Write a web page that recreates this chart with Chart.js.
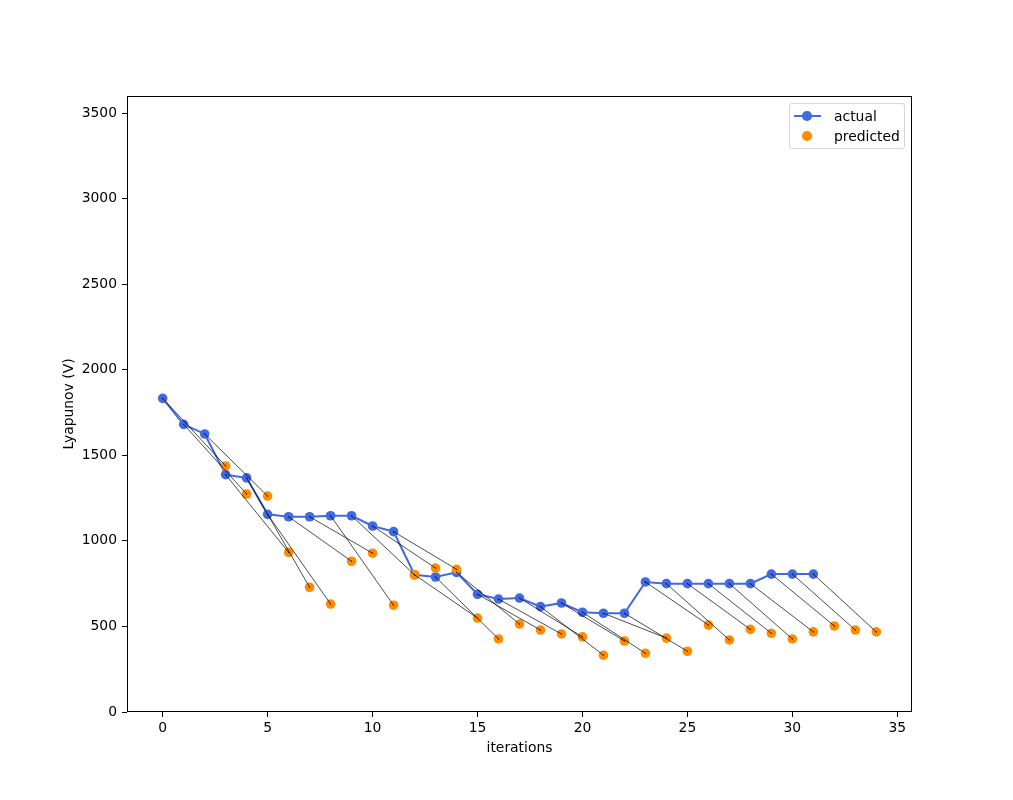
<!DOCTYPE html>
<html>
<head>
<meta charset="utf-8">
<title>Lyapunov</title>
<script src="https://cdn.jsdelivr.net/npm/chart.js@4.4.1/dist/chart.umd.min.js"></script>
<style>
    body { margin: 0; background: #fff; }
    #wrap { position: relative; width: 1013px; height: 800px; }
    #legend {
        position: absolute; left: 789px; top: 103px; width: 114px; height: 44px;
        border: 1px solid #d6d6d6; border-radius: 3px; background: rgba(255,255,255,0.8);
        font-family: 'DejaVu Sans', sans-serif; font-size: 13.9px; color: #000;
    }
    #legend .txt { position: absolute; left: 44px; line-height: 16px; }
    #legend .ln { position: absolute; left: 4px; width: 27px; height: 2px; background: #4169e1; }
    #legend .dot { position: absolute; left: 12px; width: 9.5px; height: 9.5px; border-radius: 50%; }
</style>
</head>
<body>
<div id="wrap">
    <canvas id="lyapunovChart"></canvas>
    <div id="legend">
        <div class="ln" style="top:11px"></div>
        <div class="dot" style="top:7.2px; background:#4169e1"></div>
        <span class="txt" style="top:4px">actual</span>
        <div class="dot" style="top:27.2px; background:#ff8c00"></div>
        <span class="txt" style="top:24px">predicted</span>
    </div>
</div>
<script>
// Values
const actualX = [0, 1, 2, 3, 4, 5, 6, 7, 8, 9, 10, 11, 12, 13, 14, 15,
    16, 17, 18, 19, 20, 21, 22, 23, 24, 25, 26, 27, 28, 29, 30, 31];
const actual = [1833, 1681, 1625, 1387, 1368, 1155, 1141, 1141, 1147, 1147, 1087, 1054, 802, 789, 816, 688,
    660, 666, 616, 637, 583, 577, 577, 760, 750, 750, 750, 750, 750, 806, 806, 806];

const predX = [3, 4, 5, 6, 7, 8, 9, 10, 11, 12, 13, 14, 15, 16, 17, 18,
    19, 20, 21, 22, 23, 24, 25, 26, 27, 28, 29, 30, 31, 32, 33, 34];
const predicted = [1438, 1274, 1262, 933, 729, 631, 881, 928, 624, 802, 841, 834, 549, 427, 514, 479,
    456, 439, 332, 415, 343, 432, 355, 508, 421, 483, 460, 427, 468, 503, 479, 468];

// each actual point is joined to the prediction made for it 3 steps ahead
const horizon = 3;

const xTicks = [0, 5, 10, 15, 20, 25, 30, 35];
const yTicks = [0, 500, 1000, 1500, 2000, 2500, 3000, 3500];

const FONT = { family: 'DejaVu Sans', size: 13.9 };

// Build the thin black connector lines
function buildConnectors() {
    const sets = [];
    for (let i = 0; i < actualX.length; i++) {
        const j = predX.indexOf(actualX[i] + horizon);
        if (j < 0) continue;
        sets.push({
            type: 'line',
            data: [{ x: actualX[i], y: actual[i] }, { x: predX[j], y: predicted[j] }],
            borderColor: '#000',
            borderWidth: 0.7,
            pointRadius: 0.6,
            pointBackgroundColor: '#000',
            pointBorderWidth: 0,
            order: 1
        });
    }
    return sets;
}

// Draws the four spines of the axes box
const framePlugin = {
    id: 'frame',
    afterDraw(chart) {
        const { ctx, chartArea: a } = chart;
        ctx.save();
        ctx.strokeStyle = '#000';
        ctx.lineWidth = 1;
        ctx.strokeRect(Math.round(a.left) + 0.5, Math.round(a.top) + 0.5,
            Math.round(a.right - a.left) - 1, Math.round(a.bottom - a.top) - 1);
        ctx.restore();
    }
};

const ctx = document.getElementById('lyapunovChart').getContext('2d');
const lyapunovChart = new Chart(ctx, {
    type: 'scatter',
    data: {
        datasets: [
            {
                label: 'actual',
                type: 'line',
                data: actualX.map((x, i) => ({ x: x, y: actual[i] })),
                borderColor: '#4169e1',
                backgroundColor: '#4169e1',
                borderWidth: 2,
                pointRadius: 4.8,
                pointBorderWidth: 0,
                order: 3
            },
            {
                label: 'predicted',
                data: predX.map((x, i) => ({ x: x, y: predicted[i] })),
                backgroundColor: '#ff8c00',
                borderColor: '#ff8c00',
                pointRadius: 4.8,
                pointBorderWidth: 0,
                order: 2
            },
            ...buildConnectors()
        ]
    },
    options: {
        responsive: true,
        maintainAspectRatio: false,
        animation: false,
        devicePixelRatio: 1,
        layout: { padding: { top: 96, right: 101, left: 0, bottom: 0 } },
        plugins: {
            legend: { display: false },
            tooltip: { enabled: false }
        },
        scales: {
            x: {
                type: 'linear',
                min: -1.7,
                max: 35.7,
                afterBuildTicks: scale => { scale.ticks = xTicks.map(v => ({ value: v })); },
                afterFit: scale => { scale.height = 88; },
                grid: { drawOnChartArea: false, drawTicks: true, tickLength: 5, color: '#000' },
                border: { display: false },
                ticks: { color: '#000', font: FONT, padding: 3, maxRotation: 0, callback: v => String(v) },
                title: { display: true, text: 'iterations', color: '#000', font: FONT, padding: { top: 0, bottom: 43 } }
            },
            y: {
                type: 'linear',
                min: 0,
                max: 3600,
                afterBuildTicks: scale => { scale.ticks = yTicks.map(v => ({ value: v })); },
                afterFit: scale => { scale.width = 127; },
                grid: { drawOnChartArea: false, drawTicks: true, tickLength: 5, color: '#000' },
                border: { display: false },
                ticks: { color: '#000', font: FONT, padding: 5, callback: v => String(v) },
                title: { display: true, text: 'Lyapunov (V)', color: '#000', font: FONT, padding: { top: 61, bottom: 0 } }
            }
        }
    },
    plugins: [framePlugin]
});
</script>
</body>
</html>
